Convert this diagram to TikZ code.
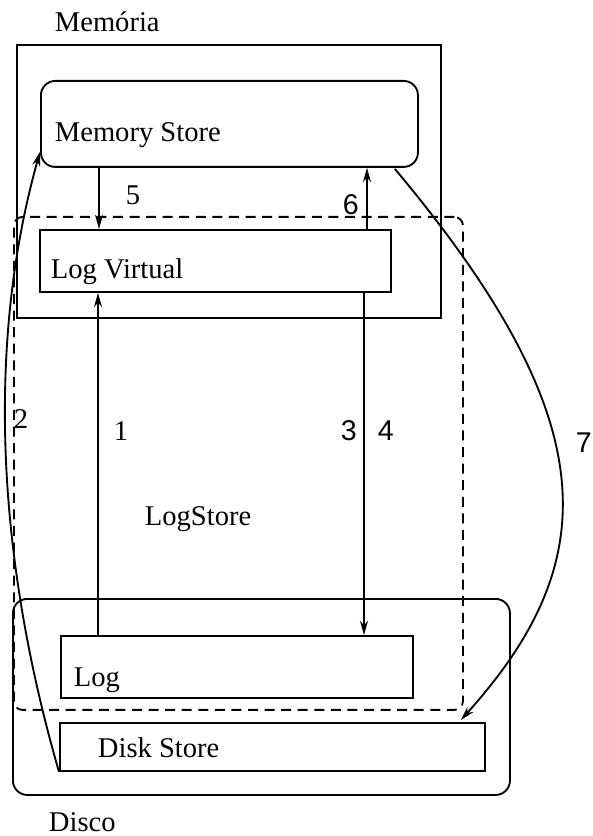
\documentclass[tikz,border=0pt]{standalone}
\usepackage{fontspec}
\setmainfont{Liberation Serif}
\newfontfamily\sansnum{Liberation Sans}
\usetikzlibrary{arrows.meta,calc}

\begin{document}
\begin{tikzpicture}[x=0.35pt, y=-0.35pt, line width=0.65pt,
    caixa/.style={draw, inner sep=0pt, anchor=north west},
    arr/.style={-{Stealth[length=5pt,width=2.8pt]}},
    txt/.style={anchor=base west, inner sep=0pt, font=\fontsize{10}{12}\selectfont},
    num/.style={anchor=base west, inner sep=0pt, font=\fontsize{10}{12}\selectfont\sansnum}]
  \useasboundingbox (0,0) rectangle (592,836);
  % memoria
  \node[caixa, minimum width=148.4pt, minimum height=95.55pt] (memoria) at (16,44) {};
  \node[caixa, rounded corners=5pt, minimum width=131.95pt, minimum height=30.1pt] (memstore) at (40,80) {};
  \node[caixa, minimum width=122.85pt, minimum height=21.7pt] (logvirt) at (39,229) {};
  % disco
  \node[caixa, rounded corners=5pt, minimum width=173.95pt, minimum height=68.6pt] (disco) at (12,598) {};
  \node[caixa, minimum width=123.2pt, minimum height=21.7pt] (log) at (60,635) {};
  \node[caixa, minimum width=148.75pt, minimum height=16.8pt] (diskstore) at (59,722) {};
  % logstore
  \node[caixa, dashed, dash pattern=on 3.5pt off 2.3pt, rounded corners=3pt,
        minimum width=157.15pt, minimum height=172.55pt] (logstore) at (13,216) {};

  \node[txt] (tmemoria) at (54,32) {Memória};
  \node[txt] (tmemstore) at (54,142) {Memory Store};
  \node[txt] (tlogvirt) at (50,279) {Log Virtual};
  \node[txt] (tlogstore) at (144,525) {LogStore};
  \node[txt] (tlog) at (73,686) {Log};
  \node[txt] (tdiskstore) at (97,757) {Disk Store};
  \node[txt] (tdisco) at (48,831) {Disco};

  % setas
  \coordinate (c1) at ($(log.north west)+(38,0)$);
  \coordinate (c3) at ($(logvirt.south west)+(325,0)$);
  \coordinate (c5) at ($(memstore.south west)+(59,0)$);
  \coordinate (c6) at ($(logvirt.north west)+(328,0)$);
  \draw[arr] (c1) -- (c1 |- logvirt.south);
  \draw[arr] (c3) -- (c3 |- log.north);
  \draw[arr] (c5) -- (c5 |- logvirt.north);
  \draw[arr] (c6) -- (c6 |- memstore.south);
  \draw[arr] (diskstore.south west) .. controls (-8,540) and (-10,330) .. ($(memstore.south west)+(0,-16)$);
  \draw[arr] ($(memstore.south east)+(-24,1)$) .. controls (605,420) and (605,560) .. ($(diskstore.north east)+(-25,-2)$);

  \node[txt] (n1) at (113,440) {1};
  \node[txt] (n2) at (13,428) {2};
  \node[num] (n3) at (340,440) {3};
  \node[num] (n4) at (377,440) {4};
  \node[txt] (n5) at (125,205) {5};
  \node[num] (n6) at (342,215) {6};
  \node[num] (n7) at (575,452) {7};
\end{tikzpicture}
\end{document}
